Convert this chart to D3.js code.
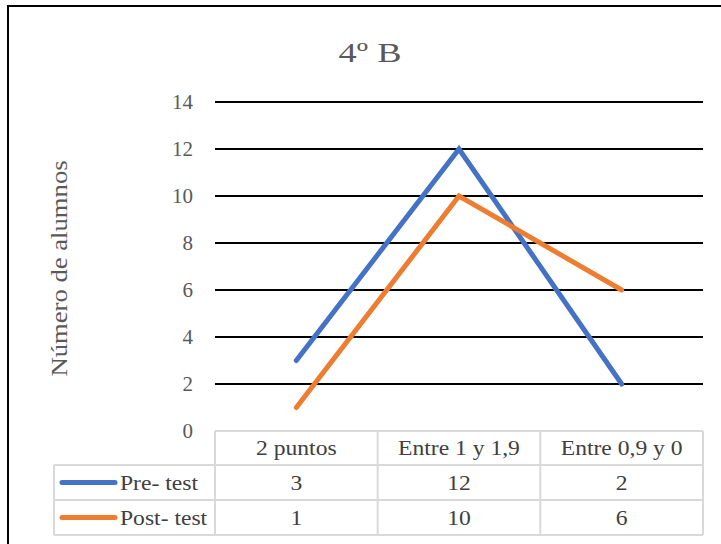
<!DOCTYPE html>
<html>
<head>
<meta charset="utf-8">
<script src="https://cdn.jsdelivr.net/npm/d3@7"></script>
<style>
  html, body { margin: 0; padding: 0; background: #fff; }
  svg { display: block; }
</style>
</head>
<body>
<div id="chart"></div>
<script>
// Chart data
const categories = ["2 puntos", "Entre 1 y 1,9", "Entre 0,9 y 0"];
const seriesNames = ["Pre- test", "Post- test"];
const preTest = [3, 12, 2];
const postTest = [1, 10, 6];
const yTicks = [0, 2, 4, 6, 8, 10, 12, 14];
const seriesColors = ["#4472C4", "#ED7D31"];

const W = 721, H = 544;
const plot = { left: 215, right: 703, top: 102, bottom: 431 };
const font = "Liberation Serif, DejaVu Serif, serif";
const stretch = 1.18; // glyphs are drawn a little wide

const svg = d3.select("#chart").append("svg")
  .attr("width", W).attr("height", H);

// outer frame
svg.append("rect")
  .attr("x", 8).attr("y", 6)
  .attr("width", 730).attr("height", 560)
  .attr("fill", "#fff").attr("stroke", "#000").attr("stroke-width", 2);

// helper: text placed at (x, y) with a horizontal stretch
function label(parent, x, y, txt, size, color, anchor, s, rot) {
  return parent.append("text")
    .attr("transform", `translate(${x},${y})${rot ? ` rotate(${rot})` : ""} scale(${s},1)`)
    .attr("text-anchor", anchor)
    .attr("font-family", font).attr("font-size", size)
    .attr("fill", color)
    .text(txt);
}

// title
label(svg, 370, 62, "4º B", 28, "#595959", "middle", 1.3);

const x = d3.scaleBand().domain(categories).range([plot.left, plot.right]);
const y = d3.scaleLinear().domain([0, 14]).range([plot.bottom, plot.top]);

// horizontal gridlines
svg.append("g").selectAll("line")
  .data(yTicks.filter(d => d > 0))
  .join("line")
  .attr("x1", plot.left).attr("x2", plot.right)
  .attr("y1", d => y(d)).attr("y2", d => y(d))
  .attr("stroke", "#000").attr("stroke-width", 2);

// y axis labels
const yAxis = d3.axisLeft(y).tickValues(yTicks).tickSize(0).tickPadding(22);
const yg = svg.append("g").attr("transform", `translate(${plot.left},0)`).call(yAxis);
yg.select(".domain").remove();
yg.selectAll("text")
  .attr("font-family", font).attr("font-size", 21)
  .attr("fill", "#595959");

// y axis title
label(svg, 67, (plot.top + plot.bottom) / 2 + 2, "Número de alumnos", 22.6, "#595959", "middle", stretch, -90);

// series lines
const series = [preTest, postTest];
const line = d3.line()
  .x((d, i) => x(categories[i]) + x.bandwidth() / 2)
  .y(d => y(d));

svg.append("g").selectAll("path")
  .data(series)
  .join("path")
  .attr("d", d => line(d))
  .attr("fill", "none")
  .attr("stroke", (d, i) => seriesColors[i])
  .attr("stroke-width", 5)
  .attr("stroke-linecap", "round")
  .attr("stroke-linejoin", "miter");

// data table
const tableLeft = 54;
const rowEdges = [431, 465, 500, 535];
const grid = "#d9d9d9";
const tg = svg.append("g");

const colEdges = [plot.left].concat(categories.map(c => x(c) + x.bandwidth()));
tg.selectAll("line.v")
  .data(colEdges)
  .join("line")
  .attr("x1", d => d).attr("x2", d => d)
  .attr("y1", rowEdges[0]).attr("y2", rowEdges[3])
  .attr("stroke", grid).attr("stroke-width", 2);
tg.append("line")
  .attr("x1", tableLeft).attr("x2", tableLeft)
  .attr("y1", rowEdges[1]).attr("y2", rowEdges[3])
  .attr("stroke", grid).attr("stroke-width", 2);
tg.append("line")
  .attr("x1", plot.left).attr("x2", plot.right)
  .attr("y1", rowEdges[0]).attr("y2", rowEdges[0])
  .attr("stroke", grid).attr("stroke-width", 2);
tg.selectAll("line.h")
  .data(rowEdges.slice(1))
  .join("line")
  .attr("x1", tableLeft).attr("x2", plot.right)
  .attr("y1", d => d).attr("y2", d => d)
  .attr("stroke", grid).attr("stroke-width", 2);

// category labels
categories.forEach(c => {
  label(tg, x(c) + x.bandwidth() / 2, (rowEdges[0] + rowEdges[1]) / 2 + 7, c, 20, "#404040", "middle", stretch);
});

// series rows: legend key, name, values
series.forEach((vals, si) => {
  const cy = (rowEdges[si + 1] + rowEdges[si + 2]) / 2;
  tg.append("line")
    .attr("x1", 62).attr("x2", 115)
    .attr("y1", cy).attr("y2", cy)
    .attr("stroke", seriesColors[si]).attr("stroke-width", 5)
    .attr("stroke-linecap", "round");
  label(tg, 120, cy + 7, seriesNames[si], 20, "#404040", "start", stretch);
  vals.forEach((v, i) => {
    label(tg, x(categories[i]) + x.bandwidth() / 2, cy + 7, v, 20, "#404040", "middle", stretch);
  });
});
</script>
</body>
</html>
